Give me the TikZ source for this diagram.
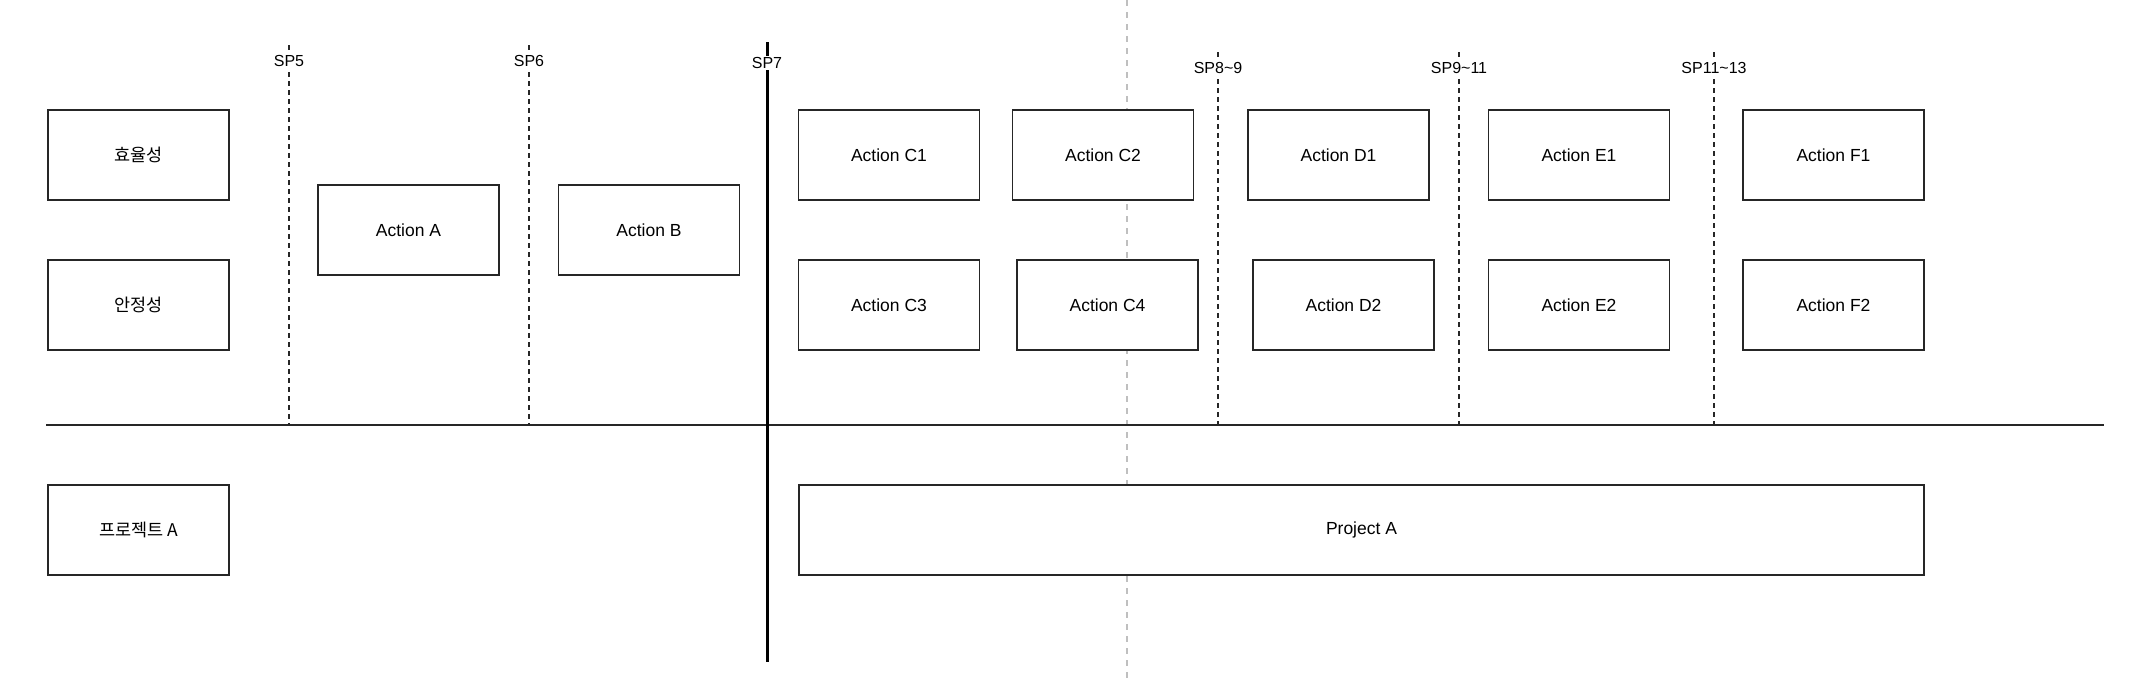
\documentclass[tikz,border=0pt]{standalone}
\usepackage{fontspec}
\setmainfont{Liberation Sans}
\newfontfamily\krfont{Noto Sans CJK KR}
\begin{document}
\begin{tikzpicture}[x=1pt,y=-1pt,
  box/.style={draw=black!85, fill=white, line width=1.5pt, minimum width=181pt, minimum height=90pt, inner sep=0pt, font=\fontsize{17.5}{20}\selectfont},
  krbox/.style={box, font=\krfont\fontsize{17.5}{20}\selectfont},
  splabel/.style={fill=white, inner sep=1.5pt, font=\fontsize{16}{18}\selectfont},
  spdash/.style={draw=black!85, line width=1.5pt, dash pattern=on 4.5pt off 4.5pt},
  greydash/.style={draw=black!25, line width=2pt, dash pattern=on 6pt off 6pt},
  mainline/.style={draw=black!85, line width=2pt},
  sevenline/.style={draw=black, line width=3pt}
]
\useasboundingbox (0,0) rectangle (2152,680);
% grey dashed divider
\coordinate (gtop) at (1126.5,0);
\coordinate (gbot) at (1126.5,680);
\draw[greydash] (gtop) -- (gbot);

% boxes
\node[krbox] (eff) at (138.5,155) {효율성};
\node[krbox] (stab) at (138.5,305) {안정성};
\node[krbox] (projk) at (138.5,530) {프로젝트 A};
\node[box] (aA) at (408.5,230) {Action A};
\node[box] (aB) at (649,230) {Action B};
\node[box] (c1) at (889,155) {Action C1};
\node[box] (c2) at (1103,155) {Action C2};
\node[box] (d1) at (1338.5,155) {Action D1};
\node[box] (e1) at (1579,155) {Action E1};
\node[box] (f1) at (1833.5,155) {Action F1};
\node[box] (c3) at (889,305) {Action C3};
\node[box] (c4) at (1107.5,305) {Action C4};
\node[box] (d2) at (1343.5,305) {Action D2};
\node[box] (e2) at (1579,305) {Action E2};
\node[box] (f2) at (1833.5,305) {Action F2};
\node[box, minimum width=1125pt] (proja) at (1361.5,530) {Project A};

% horizontal axis
\coordinate (hl) at (46,425);
\coordinate (hr) at (2104,425);
\draw[mainline] (hl) -- (hr);

% milestone lines
\coordinate (s5t) at (289,45);   \coordinate (s5b) at (289,425);
\coordinate (s6t) at (529,45);   \coordinate (s6b) at (529,425);
\coordinate (s8t) at (1218,52);  \coordinate (s8b) at (1218,425);
\coordinate (s9t) at (1459,52);  \coordinate (s9b) at (1459,425);
\coordinate (s11t) at (1714,52); \coordinate (s11b) at (1714,425);
\coordinate (s7t) at (767,42);   \coordinate (s7b) at (767,662);
\draw[spdash] (s5t) -- (s5b);
\draw[spdash] (s6t) -- (s6b);
\draw[spdash] (s8t) -- (s8b);
\draw[spdash] (s9t) -- (s9b);
\draw[spdash] (s11t) -- (s11b);
\draw[sevenline] (s7t) -- (s7b);

% labels
\node[splabel] (l5) at (289,61) {SP5};
\node[splabel] (l6) at (529,61) {SP6};
\node[splabel] (l7) at (767,63) {SP7};
\node[splabel] (l8) at (1218,68) {SP8\textasciitilde9};
\node[splabel] (l9) at (1459,68) {SP9\textasciitilde11};
\node[splabel] (l11) at (1714,68) {SP11\textasciitilde13};
\end{tikzpicture}
\end{document}
